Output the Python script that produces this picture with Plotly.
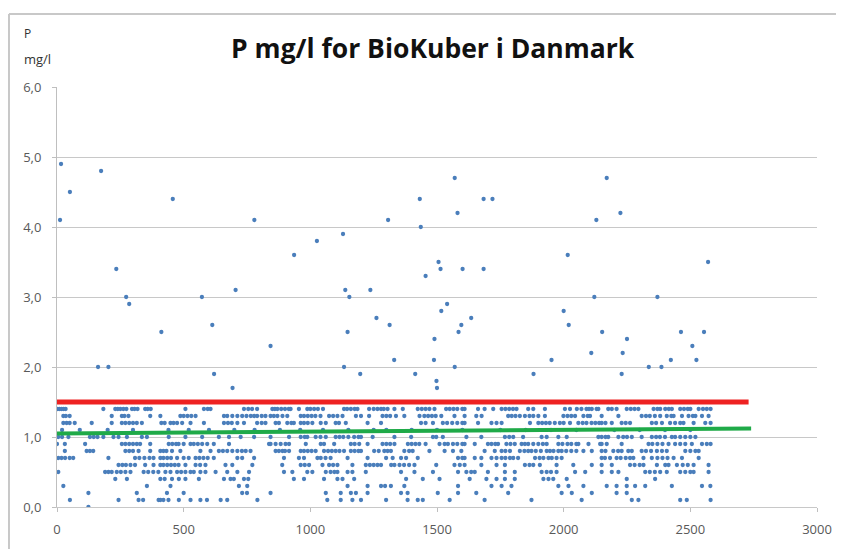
import plotly.graph_objects as go

# ---- data ----
outlier_x = [16, 51, 12, 174, 457, 779, 234, 273, 285, 162, 203, 412, 572, 613, 620, 705, 843, 936, 1026, 1129,
             1138, 1154, 1147, 1133, 1197, 1237, 1261, 1313, 1307, 1331, 1414, 1432, 1436, 1455, 1490, 1488, 1498,
             1506, 1514, 1517, 1570, 1581, 1684, 1719, 1601, 1684, 1540, 1596, 1585, 1570, 1635, 1881, 1952, 2000,
             2016, 2020, 2109, 2121, 2129, 2152, 2170, 2224, 2233, 2250, 2229, 2336, 2386, 2370, 2423, 2463, 2508,
             2524, 2554, 2570, 693, 1500]
outlier_y = [4.9, 4.5, 4.1, 4.8, 4.4, 4.1, 3.4, 3.0, 2.9, 2.0, 2.0, 2.5, 3.0, 2.6, 1.9, 3.1, 2.3, 3.6, 3.8, 3.9,
             3.1, 3.0, 2.5, 2.0, 1.9, 3.1, 2.7, 2.6, 4.1, 2.1, 1.9, 4.4, 4.0, 3.3, 2.4, 2.1, 1.8,
             3.5, 3.4, 2.8, 4.7, 4.2, 4.4, 4.4, 3.4, 3.4, 2.9, 2.6, 2.5, 2.0, 2.7, 1.9, 2.1, 2.8,
             3.6, 2.6, 2.2, 3.0, 4.1, 2.5, 4.7, 4.2, 2.2, 2.4, 1.9, 2.0, 2.0, 3.0, 2.1, 2.5, 2.3,
             2.1, 2.5, 3.5, 1.7, 1.7]

row_14 = [2, 10, 18, 26, 34, 183, 230, 240, 250, 262, 274, 296, 306, 318, 348, 358, 370,
          507, 580, 595, 606, 738, 755, 770, 790,
          850, 860, 870, 885, 900, 915, 922, 955, 988, 1000, 1015, 1030, 1050, 1133, 1145, 1160, 1175, 1186, 1232, 1250, 1265,
          1279, 1290, 1305, 1332, 1365, 1424, 1440, 1455, 1470, 1490, 1536, 1550, 1565, 1580, 1600, 1609, 1662, 1688,
          1722, 1755, 1770, 1785, 1800, 1814, 1860, 1880, 1926, 2005, 2025, 2052, 2070, 2090, 2100, 2111, 2130, 2137,
          2176, 2190, 2209, 2249, 2265, 2280, 2295, 2355, 2370, 2381, 2401, 2415, 2427, 2460, 2475, 2490, 2500, 2533,
          2550, 2565, 2580]
row_13 = [25, 35, 50, 216, 256, 266, 282, 368,
          408, 487, 500, 515, 530, 547, 659, 672, 692, 712, 731, 748, 765, 778, 790, 808, 823, 843,
          856, 870, 890, 909, 962, 975, 990, 1005, 1020, 1040, 1074, 1090, 1107, 1127, 1180, 1200, 1232,
          1285, 1300, 1315, 1338, 1371, 1431, 1450, 1465, 1480, 1495, 1517, 1569, 1609, 1655, 1676,
          1781, 1795, 1810, 1827, 1847, 1865, 1880, 1900, 1926, 1999, 2015, 2030, 2045, 2078, 2095, 2104, 2150,
          2216, 2308, 2325, 2340, 2360, 2381, 2407, 2425, 2434, 2467, 2493, 2510, 2520, 2546, 2572]
row_12 = [25, 38, 50, 70, 137, 216, 256, 270, 285, 300, 315, 335,
          412, 425, 448, 460, 474, 494, 527, 580, 659, 675, 690, 712, 738, 790, 808, 823,
          863, 876, 909, 925, 935, 962, 975, 990, 1008, 1041, 1061, 1100, 1113, 1140, 1226,
          1279, 1437, 1455, 1484, 1523, 1540, 1560, 1580, 1600, 1609, 1662,
          1715, 1735, 1755, 1867, 1900, 1915, 1930, 1945, 1965, 1985, 2000, 2025, 2058, 2075, 2090, 2110, 2125, 2140,
          2150, 2165, 2190, 2229, 2245, 2262, 2348, 2365, 2388, 2420, 2440, 2460, 2473, 2513, 2559, 2580]
row_11 = [20, 90, 200, 300, 440, 520, 600, 700, 780, 880, 960, 1050, 1150, 1250, 1300, 1400, 1500, 1600,
          1750, 1850, 1950, 2050, 2200, 2300, 2400, 2500]
row_10 = [5, 20, 45, 130, 145, 160, 183, 223, 243, 276, 335, 355,
          441, 507, 573, 639, 679, 725, 778, 843,
          916, 962, 978, 988, 1021, 1040, 1061, 1100, 1115, 1130, 1150, 1173, 1190, 1200, 1246,
          1332, 1398, 1484, 1497, 1523, 1616, 1675,
          1768, 1785, 1801, 1840, 1913, 1933, 1979, 2012, 2137,
          2150, 2165, 2176, 2216, 2235, 2250, 2269, 2308, 2348, 2365, 2380, 2400, 2427, 2440, 2460, 2480, 2500, 2520]
row_09 = [0, 31, 111, 256, 270, 285, 300, 315, 328, 368,
          441, 455, 470, 480, 500, 527, 540, 556, 573, 593, 619, 679, 837,
          843, 863, 883, 902, 916, 982, 1041, 1054, 1094, 1160, 1175, 1193, 1226,
          1285, 1300, 1315, 1332, 1385, 1400, 1415, 1430, 1455, 1510, 1530, 1543, 1563, 1580, 1600, 1609, 1649, 1701,
          1715, 1730, 1741, 1774, 1790, 1807, 1834, 1847, 1860, 1880, 1900, 1918, 1933, 1979, 1995, 2015, 2030, 2050,
          2058, 2098, 2144,
          2150, 2170, 2229, 2335, 2350, 2370, 2390, 2414, 2440, 2460, 2480, 2506, 2546, 2565, 2580]
row_08 = [31, 117, 130, 143, 270, 285, 300, 322, 368,
          408, 420, 432, 454, 487, 566, 606, 639, 655, 672, 692, 712, 730, 745, 764,
          863, 876, 890, 900, 916, 962, 975, 990, 1005, 1021, 1054, 1070, 1085, 1100, 1115, 1133, 1160, 1175, 1190,
          1200, 1252, 1270,
          1292, 1305, 1318, 1371, 1390, 1404, 1470, 1530, 1563, 1596, 1688,
          1728, 1755, 1770, 1788, 1827, 1845, 1860, 1873, 1890, 1910, 1933, 1946, 1960, 1979, 1992, 2010, 2030, 2050,
          2078, 2111,
          2150, 2165, 2196, 2215, 2229, 2255, 2269, 2308, 2325, 2345, 2368, 2388, 2407, 2480, 2500, 2520, 2533]
row_07 = [5, 18, 32, 50, 64, 203, 308, 325, 345, 365, 381,
          408, 420, 435, 450, 474, 500, 520, 547, 562, 578, 595, 619, 712, 731, 778,
          896, 955, 975, 1028, 1041, 1060, 1080, 1147, 1226,
          1299, 1325, 1358, 1378, 1424, 1583, 1600, 1609, 1649, 1675,
          1715, 1735, 1755, 1770, 1788, 1801, 1820, 1887, 1905, 1920, 1940, 1953, 1972, 1992,
          2150, 2163, 2183, 2209, 2225, 2245, 2262, 2275, 2315, 2348, 2370, 2390, 2410, 2434, 2467, 2533]
row_06 = [243, 258, 272, 290, 308, 348, 381,
          408, 420, 435, 450, 465, 480, 507, 547, 565, 586, 665, 692, 771,
          889, 962, 978, 995, 1048, 1074, 1090, 1107, 1166, 1219, 1235, 1250, 1265,
          1279, 1319, 1332, 1352, 1370, 1390, 1411, 1497, 1569, 1590, 1609, 1675,
          1735, 1768, 1847, 1865, 1880, 1906, 1972, 2038, 2111, 2150,
          2190, 2262, 2280, 2300, 2315, 2368, 2401, 2414, 2447, 2470, 2490, 2513, 2572]
row_05 = [5, 190, 203, 216, 236, 252, 270, 290, 342, 360, 380, 400,
          428, 448, 474, 490, 507, 527, 540, 566, 586, 626, 672, 712, 758,
          896, 929, 988, 1008, 1061, 1080, 1095, 1107, 1147, 1166, 1219,
          1358, 1411, 1484, 1583, 1616, 1635, 1649, 1701,
          1768, 1807, 1913, 1933, 1950, 1972, 2045, 2085,
          2150, 2190, 2216, 2322, 2340, 2360, 2381, 2407, 2460, 2480, 2500, 2513, 2572]
row_04 = [230, 276,
          408, 425, 454, 481, 507, 560, 659, 685, 698, 738, 755,
          935, 975, 1054, 1107, 1127, 1173,
          1378, 1444, 1510, 1629, 1695,
          1735, 1768, 1807, 1920, 1940, 1959, 2012,
          2249, 2361]
row_03 = [25, 355, 448, 718, 751, 1147, 1226, 1279, 1295, 1318, 1371, 1583,
          1715, 1755, 1794, 1979, 2019, 2078, 2170, 2209, 2249, 2282, 2322, 2427, 2546, 2579]
row_02 = [124, 315, 434, 500, 731, 750, 843, 1061, 1120, 1160, 1180, 1226,
          1358, 1384, 1503, 1583, 1655, 1781, 1992, 2032, 2111, 2209, 2249]
row_01 = [51, 243, 322, 340, 401, 408, 420, 440, 481, 527, 566, 592, 646, 672, 791,
          1067, 1120, 1166, 1200, 1299, 1384, 1424, 1444, 1550, 1688, 1873, 2071,
          2269, 2295, 2460, 2486, 2580]
row_00 = [124]

row_levels = [1.4, 1.3, 1.2, 1.1, 1.0, 0.9, 0.8, 0.7, 0.6, 0.5, 0.4, 0.3, 0.2, 0.1, 0.0]
rows = [row_14, row_13, row_12, row_11, row_10, row_09, row_08, row_07, row_06, row_05,
        row_04, row_03, row_02, row_01, row_00]

limit_x = [0, 2730]
limit_y = [1.5, 1.5]
trend_x = [0, 2740]
trend_y = [1.05, 1.12]

y_ticks = [0, 1, 2, 3, 4, 5, 6]
y_tick_text = ["0,0", "1,0", "2,0", "3,0", "4,0", "5,0", "6,0"]
x_ticks = [0, 500, 1000, 1500, 2000, 2500, 3000]

# ---- build points ----
pts_x = list(outlier_x)
pts_y = list(outlier_y)
for lvl, r in zip(row_levels, rows):
    pts_x += r
    pts_y += [lvl] * len(r)

fig = go.Figure()
fig.add_trace(go.Scatter(x=pts_x, y=pts_y, mode="markers",
                         marker=dict(color="#4a7ebb", size=4.3, line=dict(width=0)),
                         showlegend=False, hoverinfo="skip"))
fig.add_trace(go.Scatter(x=limit_x, y=limit_y, mode="lines",
                         line=dict(color="#ee2222", width=5), showlegend=False))
fig.add_trace(go.Scatter(x=trend_x, y=trend_y, mode="lines",
                         line=dict(color="#1faa48", width=4), showlegend=False))

font_fam = "Open Sans, Liberation Sans, sans-serif"
fig.update_layout(
    width=836, height=542,
    margin=dict(l=49, r=26, t=79, b=37),
    paper_bgcolor="white", plot_bgcolor="white",
    title=dict(text="<b>P mg/l for BioKuber i Danmark</b>", x=0.508, xanchor="center",
               y=0.925, yanchor="middle",
               font=dict(family=font_fam, size=26.5, color="#111111")),
    xaxis=dict(range=[0, 3000], tickvals=x_ticks, showgrid=False, zeroline=False,
               showline=True, linecolor="#c8c8c8", ticks="outside", ticklen=4, tickcolor="#bfbfbf",
               ticklabelstandoff=6,
               tickfont=dict(family=font_fam, size=13, color="#595959")),
    yaxis=dict(range=[0, 6], tickvals=y_ticks, ticktext=y_tick_text, showgrid=True,
               gridcolor="#c8c8c8", gridwidth=1, zeroline=False,
               showline=True, linecolor="#bfbfbf", ticks="outside", ticklen=4,
               tickcolor="#bfbfbf", ticklabelstandoff=8,
               tickfont=dict(family=font_fam, size=13, color="#595959")),
    shapes=[
        dict(type="line", xref="paper", yref="paper", x0=-0.0632, x1=1.05, y0=1.174, y1=1.174,
             line=dict(color="#c8c8c8", width=2)),
        dict(type="line", xref="paper", yref="paper", x0=-0.0632, x1=-0.0632, y0=1.174, y1=-0.1,
             line=dict(color="#c8c8c8", width=2)),
    ],
    annotations=[
        dict(text="P", xref="paper", yref="paper", x=-0.046, y=1.127,
             xanchor="left", yanchor="middle", showarrow=False,
             font=dict(family=font_fam, size=12, color="#333333")),
        dict(text="mg/l", xref="paper", yref="paper", x=-0.046, y=1.067,
             xanchor="left", yanchor="middle", showarrow=False,
             font=dict(family=font_fam, size=13, color="#333333")),
    ],
)
fig.write_html("out.html")
